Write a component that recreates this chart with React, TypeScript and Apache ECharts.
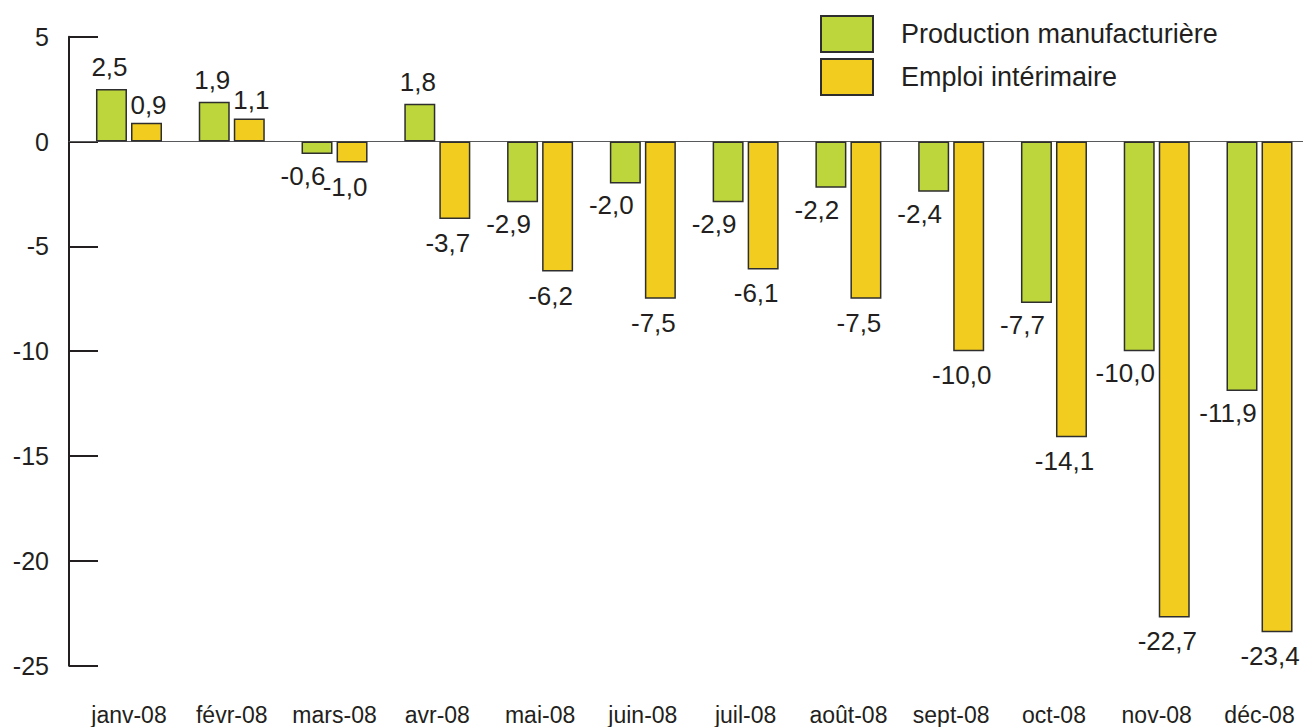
import React, { useEffect, useRef } from "react";
import * as echarts from "echarts";

const months = [
  "janv-08", "févr-08", "mars-08", "avr-08", "mai-08", "juin-08",
  "juil-08", "août-08", "sept-08", "oct-08", "nov-08", "déc-08",
];
const production = [2.5, 1.9, -0.6, 1.8, -2.9, -2.0, -2.9, -2.2, -2.4, -7.7, -10.0, -11.9];
const interim = [0.9, 1.1, -1.0, -3.7, -6.2, -7.5, -6.1, -7.5, -10.0, -14.1, -22.7, -23.4];
const yTicks = [5, 0, -5, -10, -15, -20, -25];

const GREEN = "#bdd63b";
const YELLOW = "#f2cd1f";
const INK = "#231f20";
const FONT = "'Liberation Sans', Arial, Helvetica, sans-serif";

// the drawing surface is a little wider than the window so the last
// category band can run past the right edge
const CANVAS_W = 1320;
const VIEW_W = 1303;
const VIEW_H = 727;

const fmt = (v: number) => v.toFixed(1).replace(".", ",");

function labelled(values: number[], up: { d: number; dx: number }, down: { d: number; dx: number }) {
  return values.map((v) => ({
    value: v,
    label: {
      position: v >= 0 ? "top" : "bottom",
      distance: v >= 0 ? up.d : down.d,
      offset: [v >= 0 ? up.dx : down.dx, 0],
    },
  }));
}

export default function App() {
  const ref = useRef<HTMLDivElement>(null);

  useEffect(() => {
    if (!ref.current) return;
    const chart = echarts.init(ref.current, undefined, { renderer: "svg" });
    const yMin = yTicks[yTicks.length - 1];
    const yMax = yTicks[0];
    const barLabel = {
      show: true,
      fontFamily: FONT,
      fontSize: 26,
      color: INK,
      formatter: (p: any) => fmt(p.value),
    };
    chart.setOption({
      animation: false,
      backgroundColor: "#ffffff",
      textStyle: { fontFamily: FONT },
      grid: [
        { left: 77.6, right: CANVAS_W - 1310.9, top: 36.7, bottom: 61.3 },
        { left: 69, right: CANVAS_W - VIEW_W, top: 36.7, bottom: 61.3 },
      ],
      legend: {
        orient: "vertical",
        left: 815,
        top: 10,
        itemWidth: 52,
        itemHeight: 36,
        itemGap: 5,
        icon: "rect",
        textStyle: {
          fontFamily: FONT,
          fontSize: 27,
          color: INK,
          padding: [0, 0, 0, 23],
        },
        data: ["Production manufacturière", "Emploi intérimaire"],
      },
      xAxis: [
        {
          type: "category",
          gridIndex: 0,
          data: months,
          axisLine: { show: false, onZero: false },
          axisTick: { show: false },
          axisLabel: {
            fontFamily: FONT,
            fontSize: 23,
            color: INK,
            margin: 38,
            interval: 0,
          },
        },
        {
          // zero baseline running from the value axis to the right edge
          type: "value",
          gridIndex: 1,
          min: 0,
          max: 1,
          axisLine: { show: true, onZero: true, lineStyle: { color: "#58595b", width: 1.2 } },
          axisTick: { show: false },
          axisLabel: { show: false },
          splitLine: { show: false },
          z: 1,
        },
      ],
      yAxis: [
        {
          type: "value",
          gridIndex: 0,
          min: yMin,
          max: yMax,
          interval: 5,
          show: false,
          splitLine: { show: false },
        },
        {
          type: "value",
          gridIndex: 1,
          min: yMin,
          max: yMax,
          interval: 5,
          axisLine: { show: true, lineStyle: { color: INK, width: 2 } },
          axisTick: { show: true, inside: true, length: 29, lineStyle: { color: INK, width: 2 } },
          axisLabel: {
            fontFamily: FONT,
            fontSize: 25,
            color: INK,
            margin: 20,
          },
          splitLine: { show: false },
        },
      ],
      series: [
        {
          name: "Production manufacturière",
          type: "bar",
          xAxisIndex: 0,
          yAxisIndex: 0,
          barWidth: 31,
          barGap: "13%",
          itemStyle: { color: GREEN, borderColor: "#2e2e2e", borderWidth: 1.5 },
          label: barLabel,
          data: labelled(production, { d: 9, dx: -2 }, { d: 9, dx: -14 }),
          z: 3,
        },
        {
          name: "Emploi intérimaire",
          type: "bar",
          xAxisIndex: 0,
          yAxisIndex: 0,
          barWidth: 31,
          itemStyle: { color: YELLOW, borderColor: "#2e2e2e", borderWidth: 1.5 },
          label: barLabel,
          data: labelled(interim, { d: 5, dx: 2 }, { d: 11, dx: -7 }),
          z: 3,
        },
      ],
    });
    return () => chart.dispose();
  }, []);

  return (
    <div
      style={{
        position: "absolute",
        left: 0,
        top: 0,
        width: VIEW_W,
        height: VIEW_H,
        overflow: "hidden",
      }}
    >
      <div ref={ref} style={{ width: CANVAS_W, height: VIEW_H }} />
    </div>
  );
}
